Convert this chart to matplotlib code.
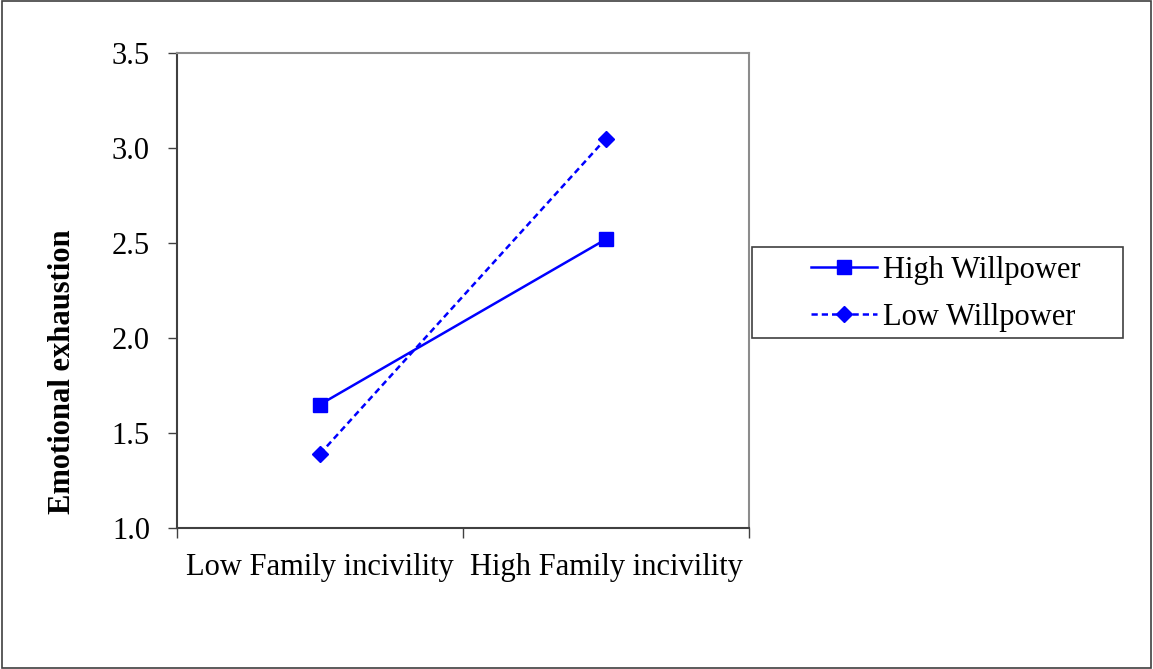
import matplotlib

matplotlib.use("Agg")
import matplotlib.pyplot as plt
from matplotlib.patches import Rectangle

# data
categories = ["Low Family incivility", "High Family incivility"]
high_willpower = [1.65, 2.52]
low_willpower = [1.39, 3.05]
y_ticks = [1.0, 1.5, 2.0, 2.5, 3.0, 3.5]

plt.rcParams["font.family"] = ["Liberation Serif", "DejaVu Serif"]

W, H = 1153, 669
fig = plt.figure(figsize=(W / 100, H / 100), dpi=100)
ax = fig.add_axes([177 / W, 1 - 528 / H, (749 - 177) / W, (528 - 53) / H])

positions = [i + 0.5 for i in range(len(categories))]
ax.plot(positions, high_willpower, color="#0000ff", linewidth=1.8, linestyle="-",
        marker="s", markersize=10, label="High Willpower")
ax.plot(positions, low_willpower, color="#0000ff", linewidth=1.8, linestyle=(0, (2.5, 1.6)),
        marker="D", markersize=8.5, label="Low Willpower")

ax.set_xlim(0, len(categories))
ax.set_ylim(y_ticks[0], y_ticks[-1])
ax.set_yticks(y_ticks, labels=[f"{v:.1f}" for v in y_ticks])
ax.set_xticks(range(len(categories) + 1), labels=[""] * (len(categories) + 1))
ax.set_xticks(positions, labels=categories, minor=True)
ax.tick_params(axis="x", which="major", direction="out", length=7, width=1, color="#404040")
ax.tick_params(axis="x", which="minor", length=0, pad=18, labelsize=22)
ax.tick_params(axis="y", direction="out", length=6.5, width=1, color="#404040", labelsize=22, pad=13)

for side in ("left", "bottom"):
    ax.spines[side].set_color("#404040")
    ax.spines[side].set_linewidth(1.5)
for side in ("top", "right"):
    ax.spines[side].set_color("#8c8c8c")
    ax.spines[side].set_linewidth(1.5)

ax.set_ylabel("Emotional exhaustion", fontsize=22, fontweight="bold")
ax.yaxis.set_label_coords(-0.175, 0.33)

# legend content without its own frame, frame drawn as a separate box
leg = fig.legend(loc="center left", bbox_to_anchor=(811 / W, 1 - 294 / H),
                 frameon=False, fontsize=22, handlelength=2.15,
                 borderpad=0, labelspacing=0.58, handletextpad=0.2, borderaxespad=0)
fig.patches.append(Rectangle((752 / W, 1 - 338 / H), (1123 - 752) / W, (338 - 247) / H,
                             transform=fig.transFigure, fill=False,
                             edgecolor="#404040", linewidth=1.2))

fig.patches.append(Rectangle((0.002, 0.002), 0.996, 0.996, transform=fig.transFigure,
                             fill=False, edgecolor="#404040", linewidth=1.2))

fig.savefig("out.png", dpi=100)
